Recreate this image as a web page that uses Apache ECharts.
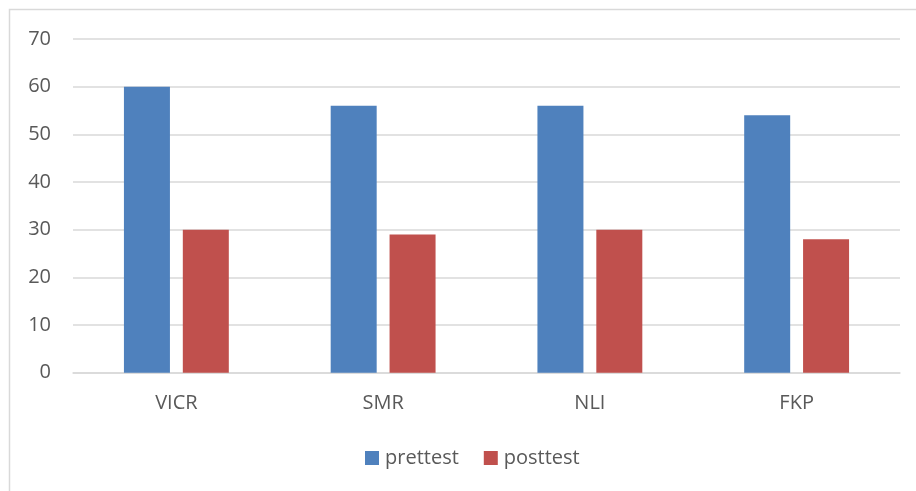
<!DOCTYPE html>
<html>
<head>
<meta charset="utf-8">
<script src="https://cdn.jsdelivr.net/npm/echarts@6/dist/echarts.min.js"></script>
<style>html,body{margin:0;padding:0;background:#fff;}#c{width:916px;height:491px;}</style>
</head>
<body>
<div id="c"></div>
<script>
var categories = ['VICR', 'SMR', 'NLI', 'FKP'];
var pretest = [60, 56, 56, 54];
var posttest = [30, 29, 30, 28];
var yTicks = [0, 10, 20, 30, 40, 50, 60, 70];

var font = '"Open Sans", "Noto Sans", sans-serif';
var chart = echarts.init(document.getElementById('c'), null, {renderer: 'canvas'});
chart.setOption({
  backgroundColor: '#ffffff',
  animation: false,
  graphic: [{
    type: 'rect', silent: true, z: -10,
    shape: {x: 9.5, y: 9.5, width: 1000, height: 1000},
    style: {fill: 'none', stroke: '#d9d9d9', lineWidth: 1.5}
  }],
  grid: {left: 73, right: 16, top: 39, bottom: 118.3, containLabel: false},
  legend: {
    left: 360, top: 443,
    itemWidth: 14, itemHeight: 14, itemGap: 25,
    icon: 'rect',
    textStyle: {color: '#595959', fontSize: 20, fontFamily: font, padding: [0,0,0,1]},
    data: ['prettest', 'posttest']
  },
  xAxis: {
    type: 'category',
    data: categories,
    axisLine: {show: true, lineStyle: {color: '#d9d9d9', width: 1.5}},
    axisTick: {show: false},
    axisLabel: {color: '#595959', fontSize: 20, fontFamily: font, margin: 21}
  },
  yAxis: {
    type: 'value',
    min: yTicks[0], max: yTicks[yTicks.length - 1], interval: 10,
    axisLine: {show: false},
    axisTick: {show: false},
    axisLabel: {color: '#595959', fontSize: 20, fontFamily: font, margin: 22},
    splitLine: {lineStyle: {color: '#d9d9d9', width: 1.5}}
  },
  series: [
    {name: 'prettest', type: 'bar', data: pretest, barWidth: 46, barGap: '28%',
     itemStyle: {color: '#4f81bd'}},
    {name: 'posttest', type: 'bar', data: posttest, barWidth: 46, barGap: '28%',
     itemStyle: {color: '#c0504d'}}
  ]
});
</script>
</body>
</html>
